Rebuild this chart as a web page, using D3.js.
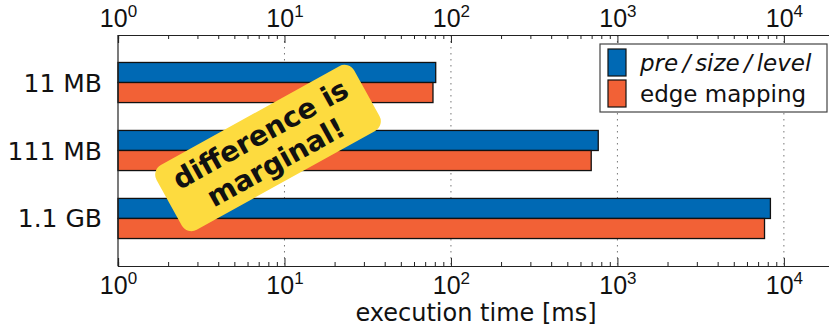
<!DOCTYPE html>
<html>
<head>
<meta charset="utf-8">
<script src="https://cdn.jsdelivr.net/npm/d3@7"></script>
<style>
  body { margin: 0; background: #fff; }
  svg { display: block; font-family: "DejaVu Sans", sans-serif; }
</style>
</head>
<body>
<svg id="chart" width="829" height="327"></svg>
<script>
// data
var categories = ["11 MB", "111 MB", "1.1 GB"];
var seriesNames = ["pre\u2009/\u2009size\u2009/\u2009level", "edge mapping"];
var preSizeLevel = [81, 767, 8300];
var edgeMapping = [78, 696, 7650];
var majorTicks = [1, 10, 100, 1000, 10000];
var minorTicks = [2, 3, 4, 5, 6, 7, 8, 9, 20, 30, 40, 50, 60, 70, 80, 90,
  200, 300, 400, 500, 600, 700, 800, 900, 2000, 3000, 4000, 5000, 6000, 7000, 8000, 9000];
var seriesColors = ["#0069b4", "#f26136"];

(function() {

  var svg = d3.select("#chart");

  var plotLeft = 118, plotRight = 834, plotTop = 35, plotBottom = 266;

  var x = d3.scaleLog().domain([1, 20000]).range([plotLeft, plotRight]);
  var y = d3.scaleBand().domain(categories).range([plotTop, plotBottom])
    .paddingInner(0.41).paddingOuter(0.404);
  var ySub = d3.scaleBand().domain(seriesNames).range([0, y.bandwidth()]);

  // dotted grid at the decades
  svg.append("g").selectAll("line")
    .data(majorTicks.slice(1))
    .enter().append("line")
    .attr("x1", function(d) { return x(d); })
    .attr("x2", function(d) { return x(d); })
    .attr("y1", plotTop).attr("y2", plotBottom)
    .attr("stroke", "#777")
    .attr("stroke-width", 1)
    .attr("stroke-dasharray", "1.5,4.5");

  // bars
  var rows = categories.map(function(c, i) {
    return { cat: c, values: [preSizeLevel[i], edgeMapping[i]] };
  });

  var groups = svg.append("g").selectAll("g")
    .data(rows)
    .enter().append("g")
    .attr("transform", function(d) { return "translate(0," + y(d.cat) + ")"; });

  groups.selectAll("rect")
    .data(function(d) { return d.values.map(function(v, j) { return { v: v, s: seriesNames[j], j: j }; }); })
    .enter().append("rect")
    .attr("x", x(1))
    .attr("y", function(d) { return ySub(d.s); })
    .attr("width", function(d) { return x(d.v) - x(1); })
    .attr("height", ySub.bandwidth())
    .attr("fill", function(d) { return seriesColors[d.j]; })
    .attr("stroke", "#111")
    .attr("stroke-width", 1.3);

  // axes
  function supLabels(sel, dy) {
    sel.selectAll(".tick text").each(function(d) {
      var t = d3.select(this);
      t.text(null).attr("font-size", 25).attr("fill", "#111").attr("dy", null).attr("y", dy);
      t.append("tspan").text("10");
      t.append("tspan").attr("font-size", 17).attr("dy", -10).text(Math.round(Math.log10(d)));
    });
  }

  function styleAxis(g) {
    g.select(".domain").attr("stroke", "#222").attr("stroke-width", 1.2);
    g.selectAll(".tick line").attr("stroke", "#222").attr("stroke-width", 1);
  }

  var topMinor = svg.append("g").attr("transform", "translate(0," + plotTop + ")")
    .call(d3.axisTop(x).tickValues(minorTicks).tickSize(-4).tickFormat(""));
  styleAxis(topMinor);
  var botMinor = svg.append("g").attr("transform", "translate(0," + plotBottom + ")")
    .call(d3.axisBottom(x).tickValues(minorTicks).tickSize(-4).tickFormat(""));
  styleAxis(botMinor);

  var topAxis = svg.append("g").attr("transform", "translate(0," + plotTop + ")")
    .call(d3.axisTop(x).tickValues(majorTicks).tickSize(-8).tickPadding(0))
    .call(supLabels, -8);
  styleAxis(topAxis);
  var botAxis = svg.append("g").attr("transform", "translate(0," + plotBottom + ")")
    .call(d3.axisBottom(x).tickValues(majorTicks).tickSize(-8).tickPadding(0))
    .call(supLabels, 28);
  styleAxis(botAxis);

  // left spine and category labels
  svg.append("line")
    .attr("x1", plotLeft).attr("x2", plotLeft).attr("y1", plotTop).attr("y2", plotBottom)
    .attr("stroke", "#222").attr("stroke-width", 1.2);

  svg.append("g").selectAll("text")
    .data(categories)
    .enter().append("text")
    .attr("x", 102)
    .attr("y", function(d) { return y(d) + y.bandwidth() / 2 + 9; })
    .attr("text-anchor", "end")
    .attr("font-size", 25)
    .attr("fill", "#111")
    .text(function(d) { return d; });

  svg.append("text")
    .attr("x", (plotLeft + plotRight) / 2)
    .attr("y", 321)
    .attr("text-anchor", "middle")
    .attr("font-size", 24)
    .attr("fill", "#111")
    .text("execution time [ms]");

  // legend
  var legend = svg.append("g").attr("transform", "translate(600,44)");
  legend.append("rect")
    .attr("width", 227).attr("height", 68)
    .attr("fill", "#fff").attr("stroke", "#444").attr("stroke-width", 1.2);
  var items = legend.selectAll("g.item")
    .data(seriesNames)
    .enter().append("g")
    .attr("transform", function(d, i) { return "translate(8," + (5 + i * 31) + ")"; });
  items.append("rect")
    .attr("width", 18).attr("height", 27)
    .attr("fill", function(d, i) { return seriesColors[i]; })
    .attr("stroke", "#111").attr("stroke-width", 1.2);
  items.append("text")
    .attr("x", 32).attr("y", 22)
    .attr("font-size", 23)
    .attr("font-style", function(d, i) { return i === 0 ? "italic" : "normal"; })
    .attr("fill", "#111")
    .text(function(d) { return d; });

  // the yellow note
  var note = svg.append("g").attr("transform", "translate(268,148) rotate(-29)");
  note.append("rect")
    .attr("x", -113).attr("y", -37).attr("width", 226).attr("height", 74)
    .attr("rx", 11)
    .attr("fill", "#fddb3f");
  note.selectAll("text")
    .data(["difference is", "marginal!"])
    .enter().append("text")
    .attr("x", 0)
    .attr("y", function(d, i) { return -6 + i * 32; })
    .attr("text-anchor", "middle")
    .attr("font-size", 28)
    .attr("font-weight", "bold")
    .attr("fill", "#111")
    .text(function(d) { return d; });

}());
</script>
</body>
</html>
